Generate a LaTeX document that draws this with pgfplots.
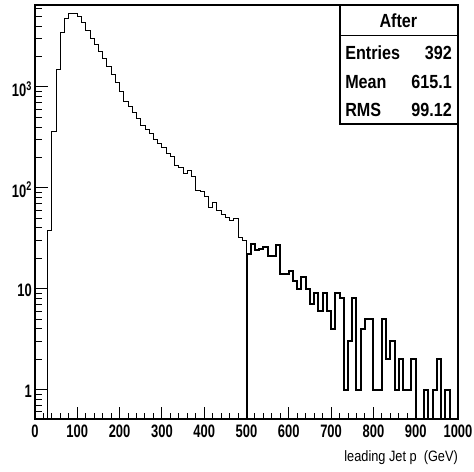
\documentclass[border=0pt]{standalone}
\usepackage{fontspec}
\setmainfont{Liberation Sans}
\newfontfamily\tickfont{Liberation Sans}[FakeStretch=0.72]
\newfontfamily\statfont{Liberation Sans}[FakeStretch=0.85]
\usepackage{pgfplots}
\pgfplotsset{compat=1.18}
\begin{document}
\begin{tikzpicture}
\begin{axis}[
  scale only axis, width=423pt, height=414pt,
  xmin=0, xmax=1000, ymode=log, ymin=0.51, ymax=6500,
  axis line style={line width=1.2pt},
  xtick={0,100,...,1000}, minor x tick num=4,
  ytick={1,10,100,1000},
  yticklabels={1,10,10\textsuperscript{2},10\textsuperscript{3}},
  minor ytick={0.6,0.7,0.8,0.9,2,3,4,5,6,7,8,9,20,30,40,50,60,70,80,90,200,300,400,500,600,700,800,900,2000,3000,4000,5000,6000},
  xtick pos=bottom, ytick pos=left, tick align=inside,
  major tick length=12.5pt, minor tick length=6.5pt,
  tick style={line width=1pt, black},
  /pgf/number format/assume math mode=true,
  /pgf/number format/1000 sep={},
  xticklabel style={font=\tickfont\bfseries\fontsize{18}{18}\selectfont, inner sep=0pt, yshift=-6pt},
  yticklabel style={font=\tickfont\bfseries\fontsize{18}{18}\selectfont, inner sep=0pt, xshift=-3pt, yshift=-2pt},
  xlabel={leading Jet p\ \ (GeV)},
  xlabel style={at={(rel axis cs:1,0)}, anchor=north east, inner sep=0pt, yshift=-31pt, font=\statfont\fontsize{15}{15}\selectfont},
]
% Before (thin)
\addplot[const plot mark left, black, line width=0.9pt, line join=miter] coordinates {
(0,0.01) (30,38) (40,361) (50,1480) (60,3440) (70,4800) (80,5400) (90,5350)
(100,5050) (110,4400) (120,3600) (130,3050) (140,2650) (150,2250) (160,1900) (170,1580)
(180,1320) (190,1100) (200,900) (210,720) (220,640) (230,560) (240,490) (250,420)
(260,375) (270,345) (280,300) (290,278) (300,250) (310,218) (320,205) (330,168)
(340,160) (350,140) (360,150) (370,129) (380,95) (390,93) (400,82) (410,64)
(420,72) (430,60) (440,55) (450,51) (460,47) (470,50) (480,32) (490,30) (500,0.01)
};
% After (thick)
\addplot[const plot mark left, black, line width=2pt, line join=miter] coordinates {
(500,0.01) (500,22) (510,28) (520,24) (530,25) (540,26) (550,21) (560,21) (570,27)
(580,14) (590,14) (600,15) (610,12) (620,10) (630,13) (640,10) (650,7) (660,9)
(670,6) (680,9) (690,6) (700,4) (710,9) (720,8) (730,1) (740,3) (750,8) (760,1)
(770,4) (780,5) (790,5) (800,1) (810,1) (820,5) (830,2) (840,3) (850,1) (860,2)
(870,1) (880,1) (890,2) (900,0.01) (910,0.01) (920,1) (930,0.01) (940,1) (950,2)
(960,0.01) (970,1) (980,0.01) (990,0.01) (1000,0.01)
};
% statistics box
\draw[line width=1.2pt, fill=white] (axis description cs:0.721,1) rectangle (axis description cs:1,0.7126);
\draw[line width=1pt] (axis description cs:0.721,0.9275) -- (axis description cs:1,0.9275);
\begin{scope}[every node/.style={font=\statfont\bfseries\fontsize{19}{19}\selectfont, inner sep=0pt}]
\node[anchor=center] at (axis description cs:0.859,0.961) {After};
\node[anchor=west] at (axis description cs:0.733,0.884) {Entries};
\node[anchor=east] at (axis description cs:0.986,0.884) {392};
\node[anchor=west] at (axis description cs:0.733,0.814) {Mean};
\node[anchor=east] at (axis description cs:0.986,0.814) {615.1};
\node[anchor=west] at (axis description cs:0.733,0.746) {RMS};
\node[anchor=east] at (axis description cs:0.986,0.746) {99.12};
\end{scope}
\end{axis}
\pgfresetboundingbox
\path[use as bounding box] ([shift={(-35pt,-53pt)}]current axis.south west) rectangle ([shift={(16pt,5pt)}]current axis.north east);
\end{tikzpicture}
\end{document}
